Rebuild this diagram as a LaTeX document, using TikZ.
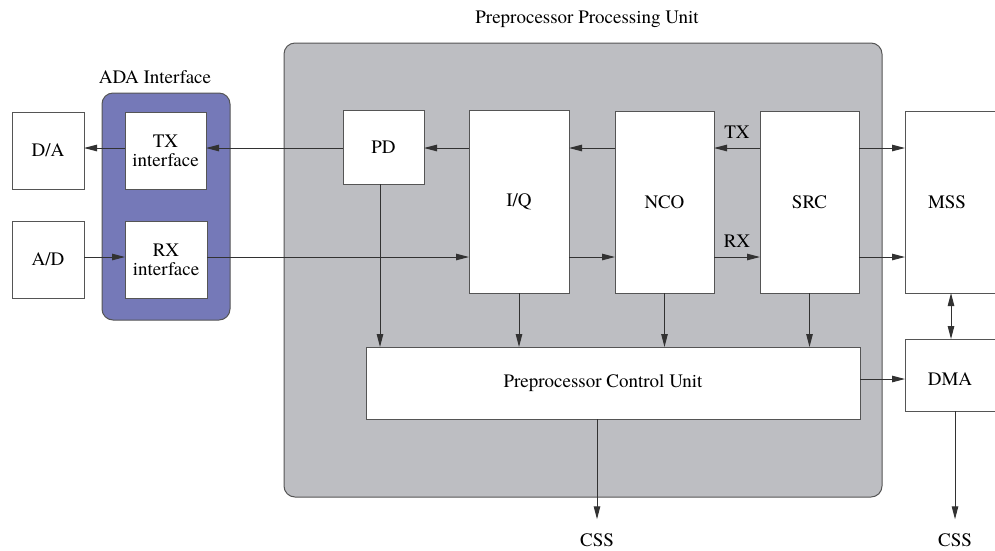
\documentclass[tikz,border=0pt]{standalone}
\usepackage{fontspec}
\setmainfont{TeX Gyre Termes}
\usetikzlibrary{arrows.meta}

\definecolor{unitgray}{RGB}{189,190,194}
\definecolor{adablue}{RGB}{117,121,184}
\definecolor{edgegray}{RGB}{85,85,85}
\definecolor{wiregray}{RGB}{50,50,50}

\begin{document}
\begin{tikzpicture}[x=1pt,y=-1pt,
  font=\rmfamily\fontsize{19}{22}\selectfont,
  blk/.style={draw=edgegray, line width=1pt, fill=white, inner sep=0pt,
              outer sep=0pt, anchor=north west, align=center},
  grp/.style={draw=edgegray, line width=1pt, rounded corners=11pt,
              inner sep=0pt, outer sep=0pt, anchor=north west},
  lbl/.style={inner sep=0pt},
  wire/.style={draw=wiregray, line width=1pt,
               -{Triangle[length=13pt,width=6.5pt]}},
  wire2/.style={draw=wiregray, line width=1pt,
               {Triangle[length=13pt,width=6.5pt]}-{Triangle[length=13pt,width=6.5pt]}}
]
\useasboundingbox (0,0) rectangle (995,550);
\clip (0,0) rectangle (995,550);

% grouping frames
\node[grp, fill=unitgray, minimum width=598pt, minimum height=454pt] (ppu) at (284,43) {};
\node[lbl] (ppulbl) at (587,19) {Preprocessor Processing Unit};
\node[grp, fill=adablue, minimum width=128pt, minimum height=227pt] (ada) at (102,93) {};
\node[lbl] (adalbl) at (155,77) {ADA Interface};

% converters and interfaces
\node[blk, minimum width=72pt, minimum height=77pt] (da) at (12,112) {D/A};
\node[blk, minimum width=81pt, minimum height=77pt] (txi) at (125,112) {TX\\[-3pt]interface};
\node[blk, minimum width=72pt, minimum height=77pt] (ad) at (12,221) {A/D};
\node[blk, minimum width=82pt, minimum height=77pt] (rxi) at (125,221) {RX\\[-3pt]interface};

% processing chain
\node[blk, minimum width=81pt, minimum height=74pt] (pd) at (343,110) {PD};
\node[blk, minimum width=100pt, minimum height=183pt] (iq) at (469,110) {I/Q};
\node[blk, minimum width=99pt, minimum height=182pt] (nco) at (615,111) {NCO};
\node[blk, minimum width=99pt, minimum height=182pt] (src) at (760,111) {SRC};
\node[blk, minimum width=120pt, minimum height=182pt] (mss) at (905,111) {};
\node[lbl] (msslbl) at (947,202) {MSS};
\node[blk, minimum width=494pt, minimum height=72pt] (ctrl) at (366,347) {Preprocessor Control Unit\hspace*{20pt}};
\node[blk, minimum width=120pt, minimum height=72pt] (dma) at (905,339) {};
\node[lbl] (dmalbl) at (950,379) {DMA};

% labels
\node[lbl] (txlbl) at (737,132) {TX};
\node[lbl] (rxlbl) at (737,241) {RX};
\node[lbl] (css1) at (597,540) {CSS};
\node[lbl] (css2) at (955,540) {CSS};

% rails
\coordinate (ty) at (0,148);
\coordinate (ry) at (0,257);
\coordinate (cy) at (0,379);
\coordinate (mdx) at (951,0);
\coordinate (c1x) at (597,0);
\coordinate (c2x) at (955,0);
\coordinate (pdx) at (380,0);

% transmit path
\draw[wire] (txi.west |- ty) -- (da.east |- ty);
\draw[wire] (pd.west |- ty) -- (txi.east |- ty);
\draw[wire] (iq.west |- ty) -- (pd.east |- ty);
\draw[wire] (nco.west |- ty) -- (iq.east |- ty);
\draw[wire] (src.west |- ty) -- (nco.east |- ty);
\draw[wire] (src.east |- ty) -- (mss.west |- ty);

% receive path
\draw[wire] (ad.east |- ry) -- (rxi.west |- ry);
\draw[wire] (rxi.east |- ry) -- (iq.west |- ry);
\draw[wire] (iq.east |- ry) -- (nco.west |- ry);
\draw[wire] (nco.east |- ry) -- (src.west |- ry);
\draw[wire] (src.east |- ry) -- (mss.west |- ry);

% control connections
\draw[wire] (pd.south -| pdx) -- (ctrl.north -| pdx);
\draw[wire] (iq.south) -- (iq.south |- ctrl.north);
\draw[wire] (nco.south) -- (nco.south |- ctrl.north);
\draw[wire] (src.south) -- (src.south |- ctrl.north);
\draw[wire] (ctrl.east |- cy) -- (dma.west |- cy);
\draw[wire2] (mss.south -| mdx) -- (dma.north -| mdx);
\draw[wire] (ctrl.south -| c1x) -- ([yshift=14pt]css1.north);
\draw[wire] (dma.south -| c2x) -- ([yshift=14pt]css2.north);
\end{tikzpicture}
\end{document}
